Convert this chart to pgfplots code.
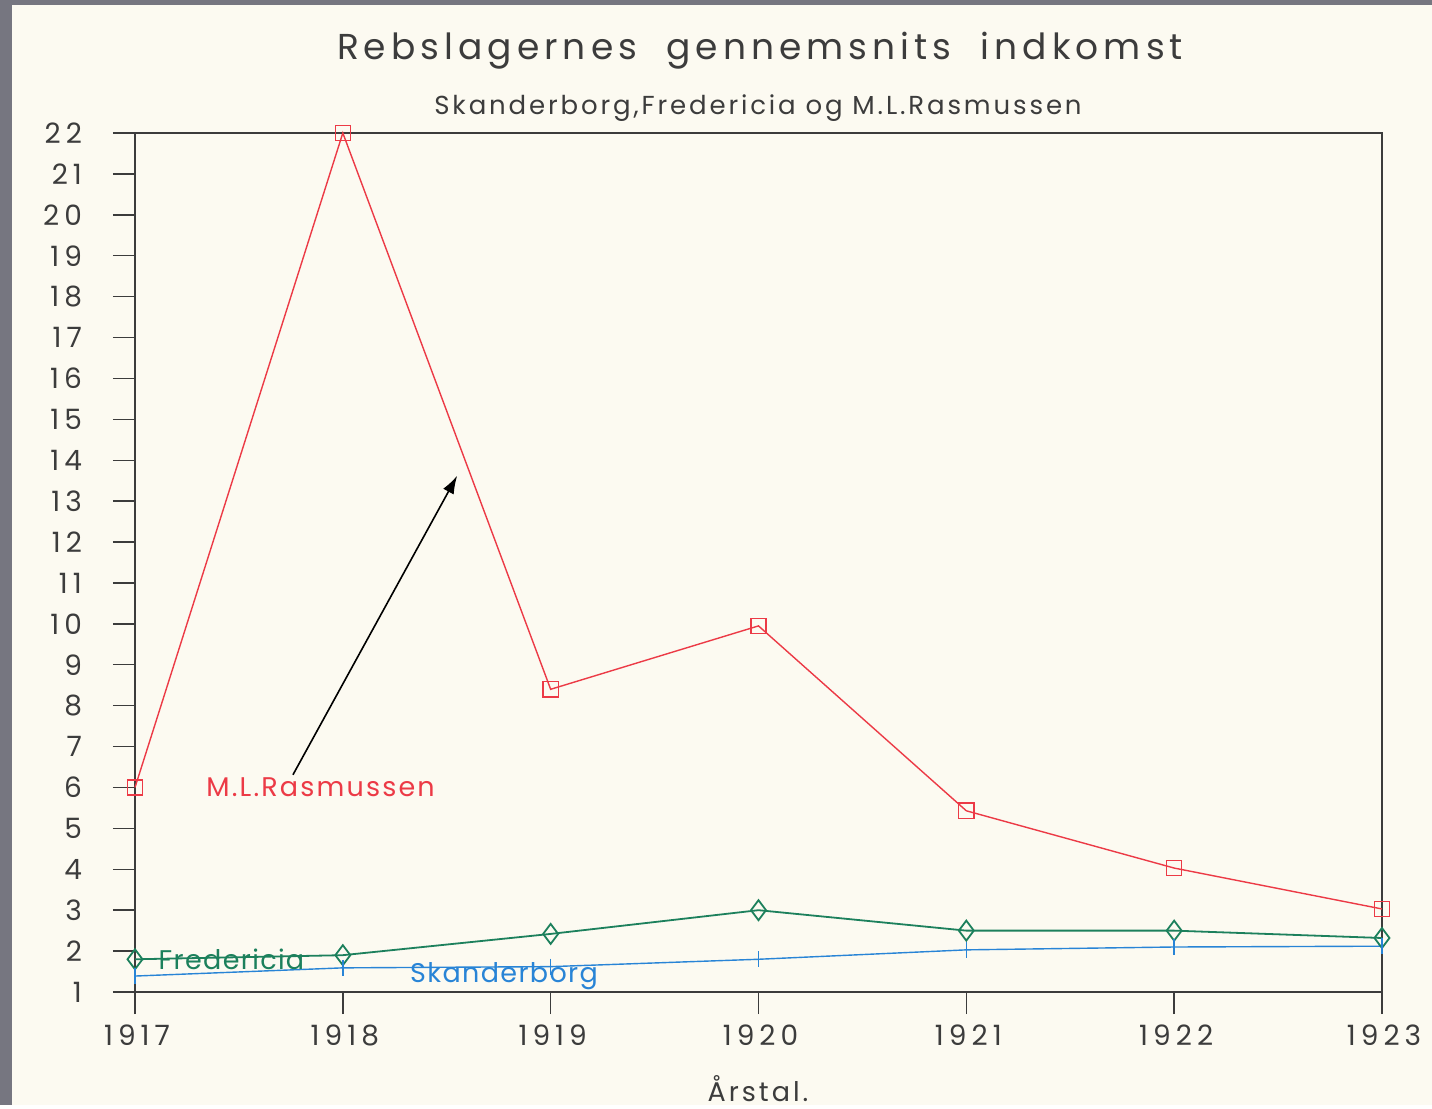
\documentclass[border=0pt]{standalone}
\usepackage{pgfplots}
\pgfplotsset{compat=1.18}
\usetikzlibrary{arrows.meta}
\usepackage{fontspec}
\setmainfont{Poppins}
\definecolor{paper}{RGB}{252,250,241}
\definecolor{frame}{RGB}{118,118,128}
\definecolor{rasred}{RGB}{236,58,70}
\definecolor{fregreen}{RGB}{28,128,92}
\definecolor{skablue}{RGB}{40,132,214}
\definecolor{inkgray}{RGB}{60,60,60}
\begin{document}
\begin{tikzpicture}
\fill[paper] (0pt,0pt) rectangle (716pt,552.5pt);
\fill[frame] (0pt,0pt) rectangle (6pt,552.5pt);
\fill[frame] (0pt,550pt) rectangle (716pt,552.5pt);
\begin{axis}[
  at={(67.5pt,56.5pt)}, anchor=south west,
  scale only axis, width=623.5pt, height=429.5pt,
  xmin=0, xmax=6, ymin=1, ymax=22,
  xtick={0,...,6}, xticklabels={1917,1918,1919,1920,1921,1922,1923},
  ytick={1,...,22},
  axis x line*=bottom, axis y line*=left,
  tick align=outside, major tick length=11pt,
  tick style={inkgray, line width=0.7pt},
  axis line style={inkgray, line width=0.7pt, -},
  clip=false,
  /pgf/number format/assume math mode=true,
  ticklabel style={font=\fontsize{14}{16}\selectfont\addfontfeatures{LetterSpace=18}, text=inkgray},
  xticklabel style={yshift=-2pt, xshift=1pt},
  yticklabel style={xshift=-12pt},
]
\draw[inkgray, line width=0.7pt] (axis cs:0,22) -- (axis cs:6,22) -- (axis cs:6,1);
\draw[inkgray, line width=0.7pt] (axis cs:0,22) -- ++(-11pt,0pt);
\addplot[rasred, line width=0.7pt, mark=square, mark size=3.8pt] coordinates {
  (0,6.0) (1,22.0) (2,8.4) (3,9.95) (4,5.43) (5,4.03) (6,3.03)};
\addplot[fregreen, line width=0.9pt, mark=diamond, mark size=5pt] coordinates {
  (0,1.8) (1,1.9) (2,2.42) (3,3.0) (4,2.5) (5,2.5) (6,2.32)};
\addplot[skablue, line width=0.7pt, mark=|, mark size=4pt] coordinates {
  (0,1.39) (1,1.59) (2,1.62) (3,1.8) (4,2.03) (5,2.1) (6,2.12)};
\node[anchor=west, text=rasred, font=\fontsize{13.5}{15}\selectfont\addfontfeatures{LetterSpace=8}] at (axis cs:0.31,6.0) {M.L.Rasmussen};
\node[anchor=west, text=fregreen, font=\fontsize{13.5}{15}\selectfont\addfontfeatures{LetterSpace=5}] at (axis cs:0.08,1.8) {Fredericia};
\node[anchor=west, text=skablue, font=\fontsize{13.5}{15}\selectfont\addfontfeatures{LetterSpace=5}] at (axis cs:1.29,1.38) {Skanderborg};
\draw[-{Latex[length=9pt,width=6pt]}, black, line width=0.8pt] (axis cs:0.76,6.31) -- (axis cs:1.55,13.62);
\end{axis}
\node[text=inkgray, font=\fontsize{18}{20}\selectfont\addfontfeatures{LetterSpace=14}] at (380pt,527pt) {Rebslagernes\ \ gennemsnits\ \ indkomst};
\node[text=inkgray, font=\fontsize{13}{15}\selectfont\addfontfeatures{LetterSpace=11}] at (379pt,498.5pt) {Skanderborg,Fredericia\ og\ M.L.Rasmussen};
\node[text=inkgray, font=\fontsize{13.5}{15}\selectfont\addfontfeatures{LetterSpace=11}] at (379pt,8pt) {Årstal.};
\end{tikzpicture}
\end{document}
